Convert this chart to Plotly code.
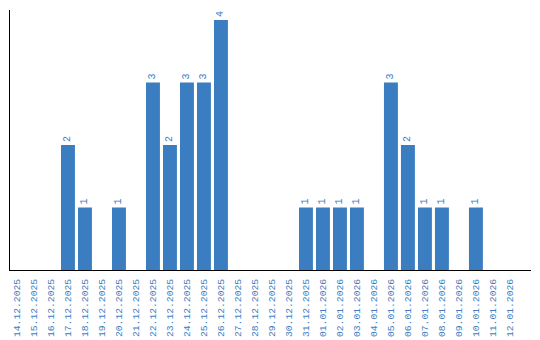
import plotly.graph_objects as go

dates = ["14.12.2025", "15.12.2025", "16.12.2025", "17.12.2025", "18.12.2025",
         "19.12.2025", "20.12.2025", "21.12.2025", "22.12.2025", "23.12.2025",
         "24.12.2025", "25.12.2025", "26.12.2025", "27.12.2025", "28.12.2025",
         "29.12.2025", "30.12.2025", "31.12.2025", "01.01.2026", "02.01.2026",
         "03.01.2026", "04.01.2026", "05.01.2026", "06.01.2026", "07.01.2026",
         "08.01.2026", "09.01.2026", "10.01.2026", "11.01.2026", "12.01.2026"]
counts = [0, 0, 0, 2, 1, 0, 1, 0, 3, 2, 3, 3, 4, 0, 0, 0, 0, 1, 1, 1, 1, 0, 3, 2, 1, 1, 0, 1, 0, 0]

BLUE = "#3b7dc1"
labels = [str(v) if v > 0 else "" for v in counts]

fig = go.Figure(go.Bar(
    x=dates, y=counts, marker=dict(color=BLUE, line=dict(width=0)),
    text=labels, textposition="outside", textangle=-90,
    textfont=dict(family="Liberation Mono", size=10, color=BLUE),
    cliponaxis=False, hoverinfo="skip",
))

fig.update_layout(
    width=540, height=340,
    margin=dict(l=10, r=9, t=10, b=70),
    paper_bgcolor="white", plot_bgcolor="white",
    bargap=0.18, showlegend=False,
    xaxis=dict(type="category", range=[-0.41, 30.24], tickangle=-90,
               tickfont=dict(family="Liberation Mono", size=9.7, color=BLUE),
               showline=True, linecolor="black", linewidth=1, automargin=False,
               ticks="", showgrid=False, zeroline=False, ticklabelstandoff=4),
    yaxis=dict(range=[0, 4.16], showline=True, linecolor="black", linewidth=1,
               automargin=False,
               showticklabels=False, ticks="", showgrid=False, zeroline=False),
)

fig.write_html("out.html")
